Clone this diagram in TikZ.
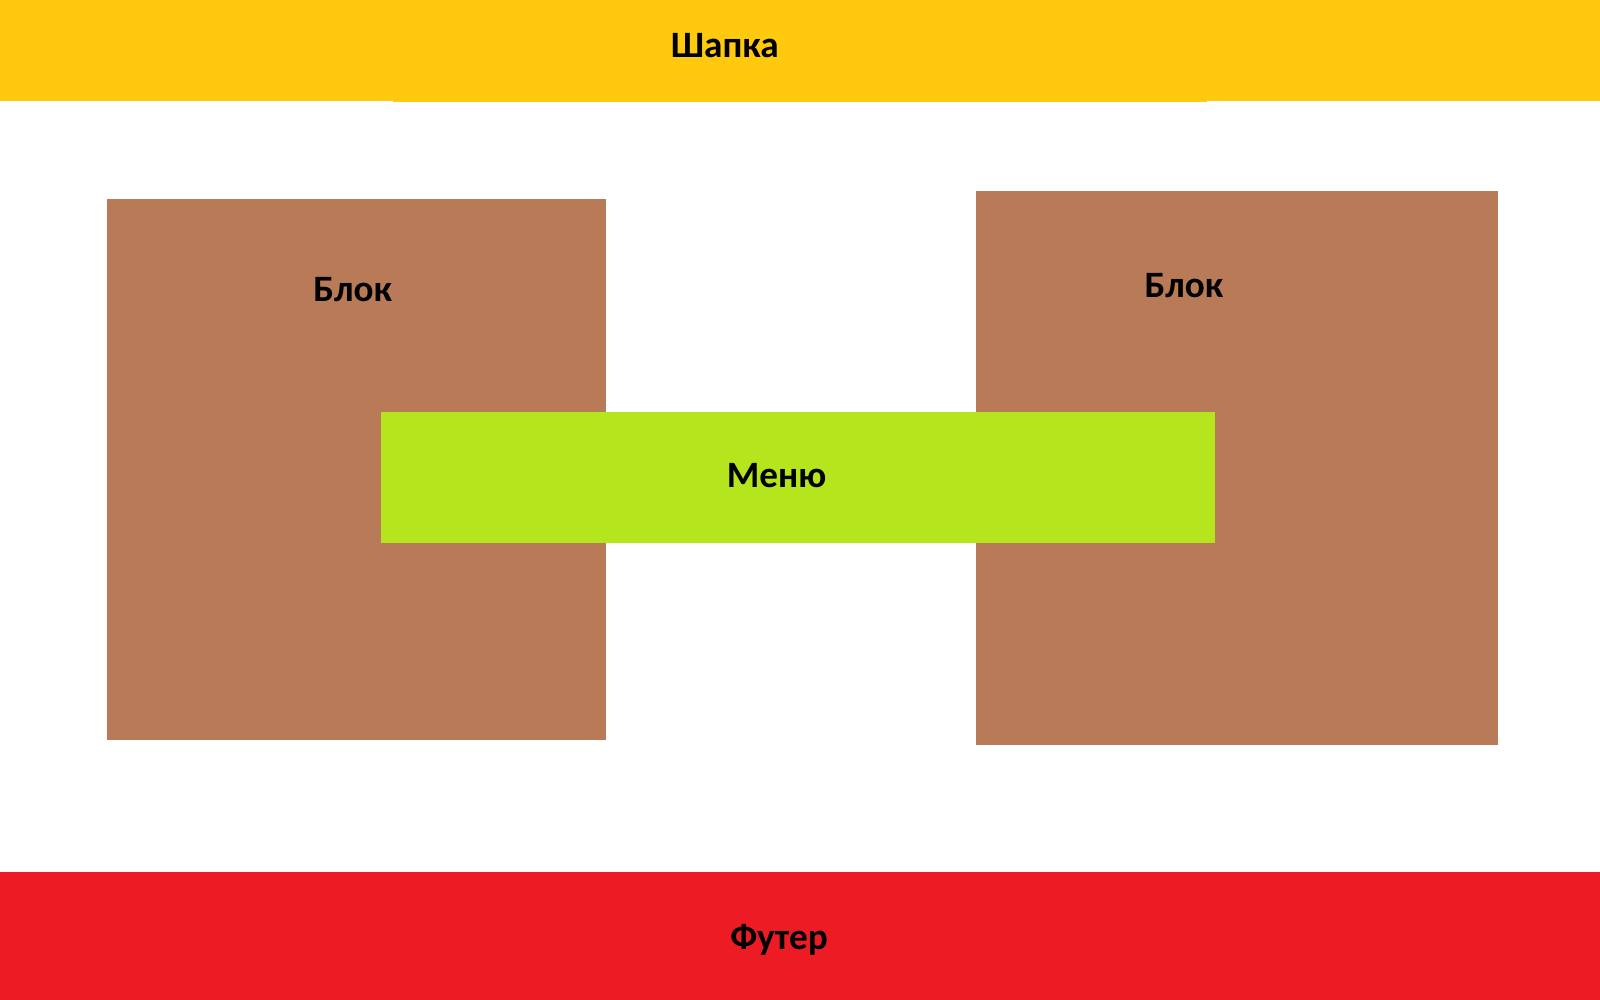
\documentclass[tikz,border=0pt]{standalone}
\usepackage{fontspec}
\setmainfont{Carlito}
\definecolor{hdr}{RGB}{255,201,14}
\definecolor{blk}{RGB}{185,122,87}
\definecolor{mnu}{RGB}{181,230,29}
\definecolor{ftr}{RGB}{237,28,36}
\tikzset{
  lbl/.style={anchor=base, inner sep=0pt, font=\fontsize{18.6pt}{21pt}\selectfont\bfseries, text=black}
}
\begin{document}
\begin{tikzpicture}[x=0.5pt,y=-0.5pt]
\useasboundingbox (0,0) rectangle (1600,1000);
\fill[white] (0,0) rectangle (1600,1000);
% header
\fill[hdr] (0,0) rectangle (1600,101);
\fill[hdr] (393,0) rectangle (1207,102);
% blocks
\fill[blk] (107,199) rectangle (606,740);
\fill[blk] (976,191) rectangle (1498,745);
% menu
\fill[mnu] (381,412) rectangle (1215,543);
% footer
\fill[ftr] (0,872) rectangle (1600,1000);
% labels
\node[lbl] (header) at (724.7,57.5) {Шапка};
\node[lbl] (blockL) at (352.7,301.5) {Блок};
\node[lbl] (blockR) at (1184,297.5) {Блок};
\node[lbl] (menu) at (776.7,487) {Меню};
\node[lbl] (footer) at (779,949) {Футер};
\end{tikzpicture}
\end{document}
